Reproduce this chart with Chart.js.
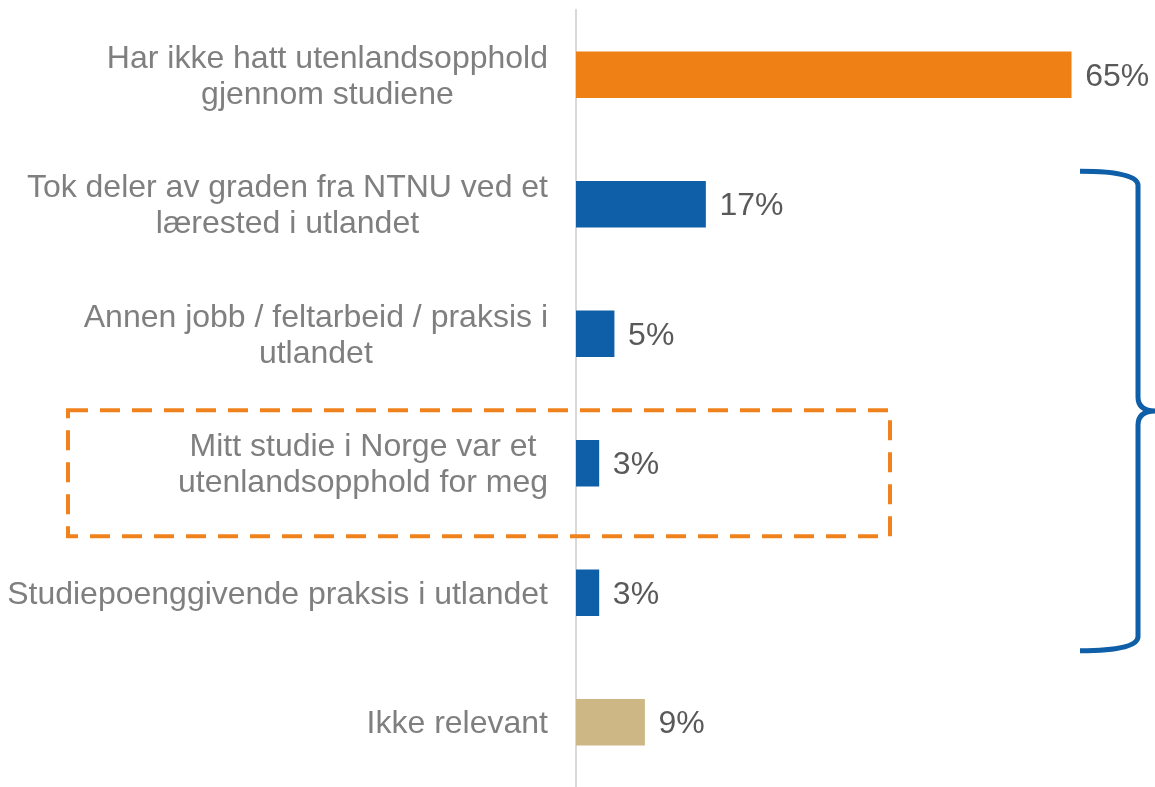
<!DOCTYPE html>
<html>
<head>
<meta charset="utf-8">
<script src="https://cdn.jsdelivr.net/npm/chart.js@4"></script>
<style>
  html, body { margin: 0; padding: 0; background: #fff; overflow: hidden; }
  #wrap { width: 1155px; height: 787px; position: relative; }
</style>
</head>
<body>
<div id="wrap"><canvas id="chart"></canvas></div>
<script>
// Categories (each entry = lines of the label)
const categories = [
    ['Har ikke hatt utenlandsopphold', 'gjennom studiene'],
    ['Tok deler av graden fra NTNU ved et', 'lærested i utlandet'],
    ['Annen jobb / feltarbeid / praksis i', 'utlandet'],
    ['Mitt studie i Norge var et', 'utenlandsopphold for meg'],
    ['Studiepoenggivende praksis i utlandet'],
    ['Ikke relevant']
];
const values = [65, 17, 5, 3, 3, 9];
const valueLabels = ['65%', '17%', '5%', '3%', '3%', '9%'];
const barColors = ['#ee8016', '#0e5ea8', '#0e5ea8', '#0e5ea8', '#0e5ea8', '#cdb885'];

const FONT = '"Liberation Sans", Arial, sans-serif';

const overlayPlugin = {
    id: 'overlay',
    afterDraw(chart) {
        const ctx = chart.ctx;
        const y = chart.scales.y;
        const x = chart.scales.x;

        ctx.save();
        ctx.font = '32px ' + FONT;
        ctx.textBaseline = 'middle';

        // Category labels: block right-aligned, lines centered within block
        ctx.fillStyle = '#7f7f7f';
        ctx.textAlign = 'center';
        const labelRight = 548;
        categories.forEach((lines, i) => {
            const cy = y.getPixelForValue(i) + 2;
            const blockW = Math.max(...lines.map(l => ctx.measureText(l).width));
            const cx = labelRight - blockW / 2;
            lines.forEach((line, j) => {
                ctx.fillText(line, cx, cy + (j - (lines.length - 1) / 2) * 36);
            });
        });

        // Value labels
        ctx.fillStyle = '#595959';
        ctx.textAlign = 'left';
        values.forEach((v, i) => {
            ctx.fillText(valueLabels[i], x.getPixelForValue(v) + 14, y.getPixelForValue(i) + 2);
        });

        // Dashed orange box round the 4th category
        const boxMid = y.getPixelForValue(3);
        ctx.strokeStyle = '#f0821e';
        ctx.lineWidth = 4;
        ctx.setLineDash([20, 12]);
        ctx.strokeRect(68, boxMid - 53, 822, 126);
        ctx.setLineDash([]);

        // Blue brace spanning categories 2-5
        const top = y.getPixelForValue(1) - 33;
        const bottom = y.getPixelForValue(4) + 58;
        const mid = (top + bottom) / 2;
        const xl = 1080, xv = 1138, xt = 1156;
        ctx.strokeStyle = '#0e5ea8';
        ctx.lineWidth = 5;
        ctx.beginPath();
        ctx.moveTo(xl, top);
        ctx.quadraticCurveTo(xv, top, xv, top + 14);
        ctx.lineTo(xv, mid - 14);
        ctx.quadraticCurveTo(xv, mid, xt, mid);
        ctx.quadraticCurveTo(xv, mid, xv, mid + 14);
        ctx.lineTo(xv, bottom - 14);
        ctx.quadraticCurveTo(xv, bottom, xl, bottom);
        ctx.stroke();

        ctx.restore();
    }
};

new Chart(document.getElementById('chart'), {
    type: 'bar',
    data: {
        labels: categories,
        datasets: [{
            data: values,
            backgroundColor: barColors,
            borderWidth: 0,
            barThickness: 46
        }]
    },
    options: {
        indexAxis: 'y',
        responsive: true,
        maintainAspectRatio: false,
        animation: false,
        layout: { padding: { top: 10, right: 0, bottom: 0, left: 0 } },
        plugins: {
            legend: { display: false },
            tooltip: { enabled: false }
        },
        scales: {
            x: {
                display: false,
                min: 0,
                max: 76
            },
            y: {
                display: true,
                grid: { display: false },
                ticks: { display: false },
                border: { display: true, color: '#d9d9d9', width: 2 },
                afterFit(scale) { scale.width = 576; }
            }
        }
    },
    plugins: [overlayPlugin]
});
</script>
</body>
</html>
